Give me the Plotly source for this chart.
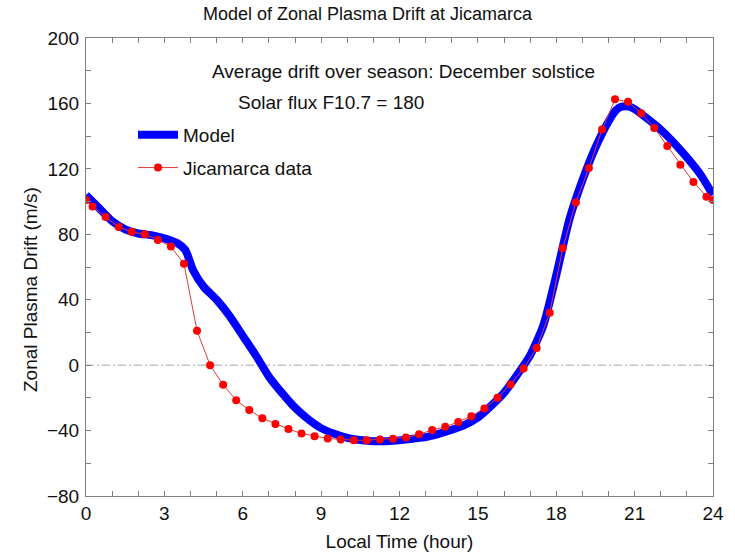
import plotly.graph_objects as go

# ---- data ----
model_time = [0, 0.5, 1, 1.5, 2, 2.5, 3, 3.5, 3.8, 4.1, 4.5, 5.0, 5.5, 6.0, 6.5, 7.0, 7.5,
              8.0, 8.5, 9.0, 9.5, 10.0, 10.5, 11.0, 11.5, 12.0, 12.5, 13.0, 13.5, 14.0,
              14.5, 15.0, 15.5, 16.0, 16.5, 17.0, 17.5, 18.0, 18.5, 19.0, 19.5, 20.0,
              20.3, 20.5, 20.8, 21.0, 21.5, 22.0, 22.5, 23.0, 23.5, 24.0]
model_drift = [104, 96, 88, 83, 80.5, 79.5, 77.5, 74.5, 70.5, 58, 48, 40, 30, 18, 6, -7, -17,
               -26, -33, -38.5, -42, -44.5, -45.8, -46.5, -46.5, -46, -45, -44, -42, -39.5,
               -36.5, -32, -25, -17, -6, 6, 24, 55, 89, 113, 133, 149,
               156, 158, 158, 156.5, 150.5, 144, 136, 127, 117, 104]

data_time = [0, 0.25, 0.75, 1.25, 1.75, 2.25, 2.75, 3.25, 3.75, 4.25, 4.75, 5.25, 5.75,
             6.25, 6.75, 7.25, 7.75, 8.25, 8.75, 9.25, 9.75, 10.25, 10.75, 11.25, 11.75,
             12.25, 12.75, 13.25, 13.75, 14.25, 14.75, 15.25, 15.75, 16.25, 16.75, 17.25,
             17.75, 18.25, 18.75, 19.25, 19.75, 20.25, 20.75, 21.25, 21.75, 22.25, 22.75,
             23.25, 23.75, 24]
data_drift = [101, 97, 90.5, 84.5, 81.5, 80, 76.5, 72.5, 62, 21, 0, -12, -21.5,
              -27.5, -32.5, -36, -39, -41.8, -43.4, -44.8, -45.4, -45.9, -45.9, -45.4, -45,
              -44.2, -42.2, -39.7, -37.7, -34.7, -31.2, -26.5, -20, -11.8, -2, 10.5,
              32, 71.5, 99.5, 120.5, 144, 162.5, 161, 154, 145, 134, 122.5,
              112, 103, 101]

title_text = "Model of Zonal Plasma Drift at Jicamarca"
x_title = "Local Time (hour)"
y_title = "Zonal Plasma Drift (m/s)"
note1 = "Average drift over season: December solstice"
note2 = "Solar flux F10.7 = 180"
x_ticks = list(range(0, 25, 3))
y_ticks = list(range(-80, 201, 40))

FONT = "Arial, Liberation Sans, sans-serif"
W, H = 735, 552
L, R, T, B = 86, 22, 38, 56
pw, ph = W - L - R, H - T - B

def px(x):
    return (x - L) / pw

def py(y):
    return (H - B - y) / ph

fig = go.Figure()
fig.add_trace(go.Scatter(
    x=model_time, y=model_drift, mode="lines", name="Model",
    line=dict(color="#0000ff", width=8, shape="spline", smoothing=0.6), legendgroup="a"))
fig.add_trace(go.Scatter(
    x=data_time, y=data_drift, mode="lines+markers", name="Jicamarca data",
    line=dict(color="#e03a3a", width=1),
    marker=dict(color="#ff0000", size=8), legendgroup="b"))

fig.add_hline(y=0, line=dict(color="#c0c0c0", width=1.5, dash="8px,3px,2px,3px"),
              layer="below")

axis_common = dict(
    showline=True, linecolor="#808080", linewidth=1, mirror="ticks",
    ticks="inside", ticklen=5, tickcolor="#808080", tickwidth=1,
    showgrid=False, zeroline=False, automargin=False,
    tickfont=dict(family=FONT, size=19, color="#111111"),
)

fig.update_xaxes(range=[0, 24], tickvals=x_ticks,
                 minor=dict(dtick=1, ticks="inside", ticklen=5, tickcolor="#808080", showgrid=False),
                 title=dict(text=x_title, font=dict(family=FONT, size=19, color="#111111"), standoff=12),
                 **axis_common)
fig.update_yaxes(range=[-80, 200], tickvals=y_ticks,
                 minor=dict(dtick=20, ticks="inside", ticklen=5, tickcolor="#808080", showgrid=False),
                 ticklabelstandoff=2,
                 **axis_common)

fig.update_layout(
    width=W, height=H,
    margin=dict(l=L, r=R, t=T, b=B),
    paper_bgcolor="white", plot_bgcolor="white",
    title=dict(text=title_text, x=0.5, xanchor="center", y=1 - 14 / H, yanchor="middle",
               yref="container", font=dict(family=FONT, size=18, color="#111111")),
    showlegend=True,
    legend=dict(x=px(133), y=py(116), xanchor="left", yanchor="top",
                bgcolor="rgba(0,0,0,0)", tracegroupgap=5, itemwidth=40,
                font=dict(family=FONT, size=19, color="#111111")),
    annotations=[
        dict(text=note1, x=px(403), y=py(72), xref="paper", yref="paper",
             showarrow=False, xanchor="center", yanchor="middle",
             font=dict(family=FONT, size=19, color="#111111")),
        dict(text=note2, x=px(331), y=py(102), xref="paper", yref="paper",
             showarrow=False, xanchor="center", yanchor="middle",
             font=dict(family=FONT, size=19, color="#111111")),
        dict(text=y_title, x=px(30), y=py(290), xref="paper", yref="paper",
             showarrow=False, xanchor="center", yanchor="middle", textangle=-90,
             font=dict(family=FONT, size=19, color="#111111")),
    ],
)

fig.write_html("out.html")
